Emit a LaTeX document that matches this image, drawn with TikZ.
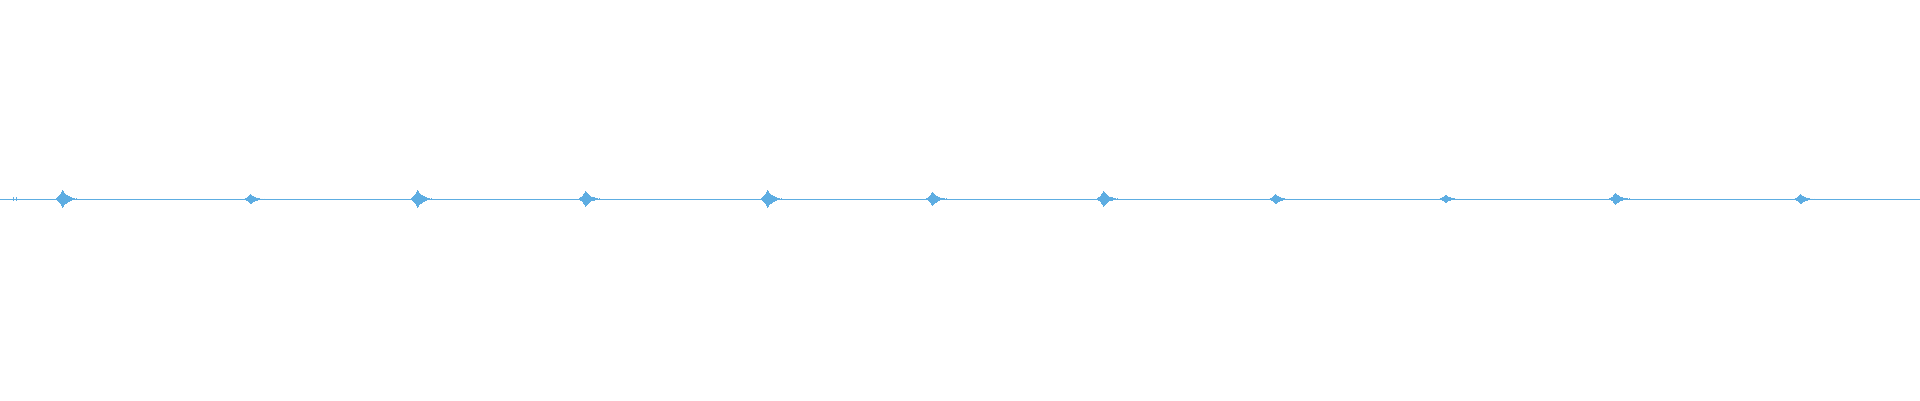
\documentclass[tikz,border=0pt]{standalone}
\begin{document}
\begin{tikzpicture}[x=1pt,y=-1pt]
\definecolor{wave}{HTML}{5DADE2}
\tikzset{wavebar/.style={draw=wave,line width=0.8pt}}
\useasboundingbox (0,0) rectangle (1920,400);
\fill[white] (0,0) rectangle (1920,400);
\draw[wave,line width=1pt] (0,199) -- (1920,199);
\foreach \cx/\a in {62/9,250/5,417/9,585/8,767/9,932/7,1103/8,1275/5,1445/4,1615/6,1800/5} {
  \foreach \d/\h in {-6/1,-5/2,-4/3,-3/4,-2/6,-1/8,0/10,1/9,2/7,3/6,4/5,5/4,6/3,7/3,8/2,9/2,10/1,11/1,12/1,14/1} {
    \draw[wavebar] (\cx+\d,{199-\a*\h/10}) -- (\cx+\d,{199+\a*\h/10});
  }
}
\draw[wavebar] (13,197) -- (13,201);
\draw[wavebar] (16,197) -- (16,201);
\end{tikzpicture}
\end{document}
